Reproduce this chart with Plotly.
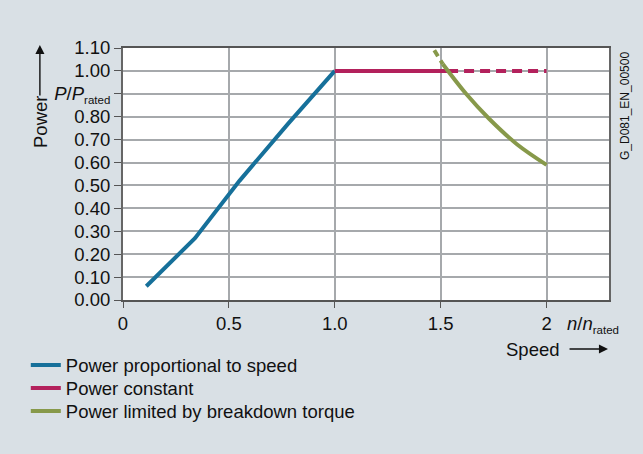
import plotly.graph_objects as go

# Data
prop_x = [0.11, 0.34, 0.55, 0.78, 1.0]
prop_y = [0.06, 0.27, 0.52, 0.77, 1.0]

const_solid_x = [1.0, 1.535]
const_solid_y = [1.0, 1.0]
const_dash_x = [1.535, 2.0]
const_dash_y = [1.0, 1.0]

brk_dash_x = [1.47, 1.51]
brk_dash_y = [1.09, 1.03]
brk_x = [1.51, 1.62, 1.73, 1.86, 2.0]
brk_y = [1.03, 0.90, 0.79, 0.68, 0.59]

y_ticks = [0.0, 0.1, 0.2, 0.3, 0.4, 0.5, 0.6, 0.7, 0.8, 0.9, 1.0, 1.1]
y_labels = ["0.00", "0.10", "0.20", "0.30", "0.40", "0.50", "0.60", "0.70", "0.80",
            "<i>P</i>/<i>P</i><sub><span style='font-size:11.5px'>rated</span></sub>", "1.00", "1.10"]
x_ticks = [0, 0.5, 1.0, 1.5, 2.0]
x_labels = ["0", "0.5", "1.0", "1.5", "2"]

BLUE = "#16709a"
MAG = "#b3215c"
GREEN = "#87994a"
BG = "#d9e0e5"
FONT = "Liberation Sans, Arial, sans-serif"
FS = 18.5

fig = go.Figure()
fig.add_trace(go.Scatter(x=prop_x, y=prop_y, mode="lines", line=dict(color=BLUE, width=4),
                         name="Power proportional to speed", legend="legend"))
fig.add_trace(go.Scatter(x=const_solid_x, y=const_solid_y, mode="lines", line=dict(color=MAG, width=4),
                         name="Power constant", legend="legend2"))
fig.add_trace(go.Scatter(x=const_dash_x, y=const_dash_y, mode="lines",
                         line=dict(color=MAG, width=4, dash="10px,6px"), showlegend=False))
fig.add_trace(go.Scatter(x=brk_dash_x, y=brk_dash_y, mode="lines",
                         line=dict(color=GREEN, width=4, dash="7px,5px"), showlegend=False))
fig.add_trace(go.Scatter(x=brk_x, y=brk_y, mode="lines", line=dict(color=GREEN, width=4, shape="spline"),
                         name="Power limited by breakdown torque", legend="legend3"))

leg_common = dict(x=-0.2, xanchor="left", yanchor="top", bgcolor="rgba(0,0,0,0)",
                  font=dict(size=FS), itemwidth=30)
fig.update_layout(
    width=643, height=454,
    margin=dict(l=123, r=34, t=48, b=154),
    paper_bgcolor=BG, plot_bgcolor="white",
    font=dict(family=FONT, size=FS, color="#111111"),
    showlegend=True,
    legend=dict(y=-0.184, **leg_common),
    legend2=dict(y=-0.2754, **leg_common),
    legend3=dict(y=-0.3667, **leg_common),
)
fig.update_xaxes(range=[0, 2.295], tickvals=x_ticks, ticktext=x_labels,
                 showgrid=True, gridcolor="#a6a9ac", gridwidth=1.5,
                 showline=True, linecolor="#555555", linewidth=1.5, mirror=True,
                 ticks="outside", ticklen=6, tickcolor="#555555", zeroline=False,
                 tickfont=dict(size=FS))
fig.update_yaxes(range=[0, 1.1], tickvals=y_ticks, ticktext=y_labels,
                 showgrid=True, gridcolor="#a6a9ac", gridwidth=1.5,
                 showline=True, linecolor="#666666", linewidth=2, mirror=True,
                 ticks="outside", ticklen=7, tickcolor="#555555", zeroline=False,
                 tickfont=dict(size=FS))

# axis labels
fig.add_annotation(xref="paper", yref="paper", x=0.909, y=0, yshift=-24, xanchor="left", yanchor="middle",
                   text="<i>n</i>/<i>n</i><sub><span style='font-size:11.5px'>rated</span></sub>",
                   showarrow=False, font=dict(size=FS))
fig.add_annotation(xref="paper", yref="paper", x=0.903, y=0, yshift=-49, xanchor="right", yanchor="middle",
                   text="Speed", showarrow=False, font=dict(size=FS))
fig.add_annotation(xref="paper", yref="paper", x=0.998, y=0, yshift=-49, ax=-40, ay=0,
                   text="", showarrow=True, arrowhead=2, arrowsize=1.3, arrowwidth=1.4, arrowcolor="#111111")
fig.add_annotation(xref="paper", yref="paper", x=-0.171, y=0.706, xanchor="center", yanchor="middle",
                   text="Power", textangle=-90, showarrow=False, font=dict(size=FS))
fig.add_annotation(xref="paper", yref="paper", x=-0.171, y=1.012, ax=0, ay=52,
                   text="", showarrow=True, arrowhead=2, arrowsize=1.3, arrowwidth=1.4, arrowcolor="#111111")
fig.add_annotation(xref="paper", yref="paper", x=1.0, y=1.0, xshift=16, yshift=-2, xanchor="center", yanchor="top",
                   text="G_D081_EN_00500", textangle=-90, showarrow=False, font=dict(size=12))

fig.write_html("out.html", config={"displayModeBar": False},
               post_script="document.body.style.margin='0';document.body.style.overflow='hidden';")
